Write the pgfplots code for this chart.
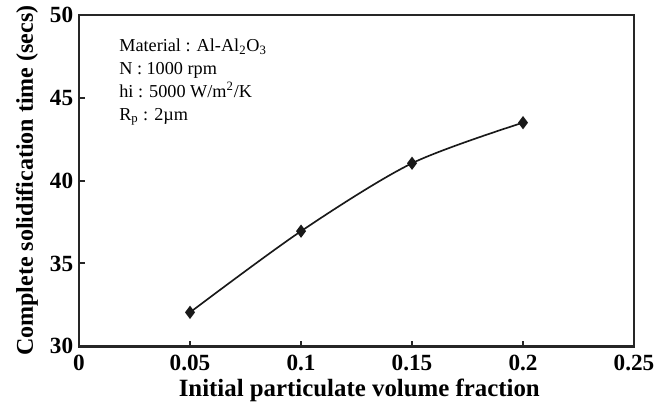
\documentclass[border=0pt]{standalone}
\usepackage{pgfplots}
\pgfplotsset{compat=1.18}
\usepackage{fontspec}
\setmainfont{Liberation Serif}
\begin{document}
\begin{tikzpicture}
\begin{axis}[
  name=ax,
  scale only axis,
  width=335pt, height=200pt,
  xmin=0, xmax=0.25, ymin=30, ymax=50,
  xtick={0,0.05,0.1,0.15,0.2,0.25},
  xticklabels={0,0.05,0.1,0.15,0.2,0.25},
  ytick={30,35,40,45,50},
  tick pos=left,
  tick align=inside,
  major tick length=3.5pt,
  axis line style={line width=1.7pt, black!85},
  every tick/.style={line width=1.2pt, black!85},
  ticklabel style={font=\fontsize{14}{15}\selectfont\bfseries},
  xticklabel style={yshift=-1.5pt},
  /pgf/number format/assume math mode=true,
  xlabel={Initial particulate volume fraction},
  ylabel={Complete solidification time (secs)},
  xlabel style={font=\fontsize{15}{17}\selectfont\bfseries,
    at={(axis description cs:0.505,-0.132)}, anchor=center},
  ylabel style={font=\fontsize{14.5}{16}\selectfont\bfseries,
    at={(axis description cs:-0.094,0.5)}, anchor=center},
  clip=false,
]
\addplot[black!90, line width=1pt, smooth, mark=diamond*, mark size=3.2pt]
  coordinates {(0.05,32.05) (0.1,36.95) (0.15,41.05) (0.2,43.5)};
\node[anchor=north west, align=left, font=\fontsize{11}{13.7}\selectfont,
      inner sep=0pt] at (axis cs:0.018,48.55)
  {Material : Al-Al\textsubscript{2}O\textsubscript{3}\\
   N : 1000 rpm\\
   hi : 5000 W/m\textsuperscript{2}/K\\
   R\textsubscript{p} : 2\textmu m};
\end{axis}
\path (ax.south west) ++(-47.7pt,-39.8pt) coordinate (bbsw);
\path (ax.north east) ++(18.7pt,8.45pt) coordinate (bbne);
\path (bbsw) rectangle (bbne);
\end{tikzpicture}
\end{document}
